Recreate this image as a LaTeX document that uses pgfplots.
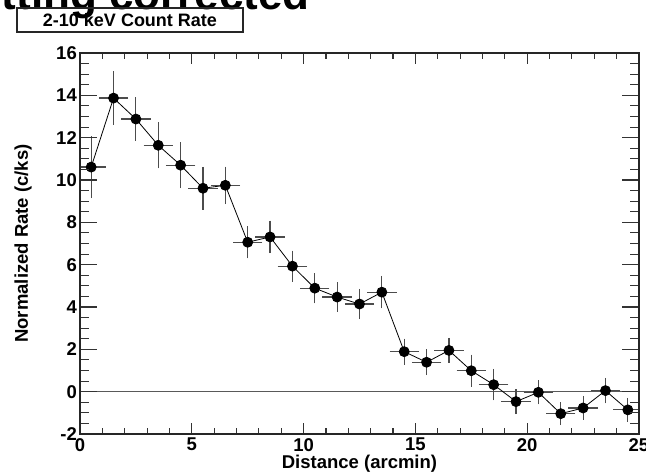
\documentclass[border=0pt]{standalone}
\usepackage{fontspec}
\setmainfont{Liberation Sans}
\usepackage{pgfplots}
\pgfplotsset{compat=1.18}

\pgfplotstableread{
x     y      ex   ey
0.5   10.61  0.5  1.30
1.5   13.87  0.5  1.10
2.5   12.88  0.5  0.87
3.5   11.64  0.5  0.92
4.5   10.70  0.5  0.92
5.5   9.61   0.5  0.85
6.5   9.75   0.5  0.72
7.5   7.06   0.5  0.60
8.5   7.31   0.5  0.60
9.5   5.93   0.5  0.57
10.5  4.89   0.5  0.55
11.5  4.47   0.5  0.54
12.5  4.14   0.5  0.55
13.5  4.70   0.5  0.60
14.5  1.89   0.5  0.45
15.5  1.39   0.5  0.44
16.5  1.95   0.5  0.43
17.5  0.99   0.5  0.60
18.5  0.33   0.5  0.58
19.5  -0.47  0.5  0.43
20.5  -0.03  0.5  0.40
21.5  -1.04  0.5  0.38
22.5  -0.77  0.5  0.40
23.5  0.05   0.5  0.44
24.5  -0.86  0.5  0.40
}\ratetable

\pgfplotsset{
  frame/.style={
    at={(0pt,0pt)}, anchor=south west,
    scale only axis, width=559pt, height=381pt,
    xmin=0, xmax=25, ymin=-2, ymax=16,
    axis line style={black!85, line width=1.2pt},
    every tick/.style={black!80, line width=1.1pt},
    /pgf/number format/assume math mode=true,
    ticklabel style={font=\fontsize{18.5}{18.5}\selectfont\bfseries},
    label style={font=\fontsize{18.5}{18.5}\selectfont\bfseries},
  },
}

\begin{document}
\begin{tikzpicture}
\useasboundingbox (-80pt,-38pt) rectangle (566pt,434pt);
\clip (-80pt,-38pt) rectangle (566pt,434pt);

% header text cut off at the top of the page
\node[anchor=base east, inner sep=0pt, font=\fontsize{44}{44}\selectfont\bfseries]
  at (230pt,424pt) {Fitting corrected};
\draw[line width=1.2pt, black!85] (-63pt,402pt) rectangle (163pt,426pt);
\node[font=\fontsize{18}{18}\selectfont\bfseries] at (50pt,414pt) {2-10 keV Count Rate};

% x ticks, data
\begin{axis}[
  frame,
  xtick={0,5,...,25}, minor x tick num=4,
  ytick=\empty,
  major tick length=11pt, minor tick length=6pt,
  xticklabel style={inner sep=0pt, yshift=-4pt},
  xlabel={Distance (arcmin)},
  xlabel style={inner sep=0pt, yshift=-3.5pt},
]
\addplot[black!65, line width=1pt, forget plot] coordinates {(0,0) (25,0)};
\addplot[black, line width=0.8pt, mark=*, mark size=5pt, mark options={fill=black, solid},
  error bars/.cd,
    x dir=both, x explicit, y dir=both, y explicit,
    error bar style={black!70, line width=1.2pt},
    error mark options={black!70, line width=1.2pt, mark size=3.5pt}]
  table[x=x, y=y, x error=ex, y error=ey] {\ratetable};
\end{axis}

% y ticks and label
\begin{axis}[
  frame,
  xtick=\empty,
  ytick={-2,0,...,16}, minor y tick num=3,
  major tick length=17pt, minor tick length=9pt,
  yticklabel style={inner sep=0pt, xshift=-3pt},
  ylabel={Normalized Rate (c/ks)},
  ylabel style={at={(axis description cs:-0.102,0.5)}, anchor=center},
]
\end{axis}
\end{tikzpicture}
\end{document}
